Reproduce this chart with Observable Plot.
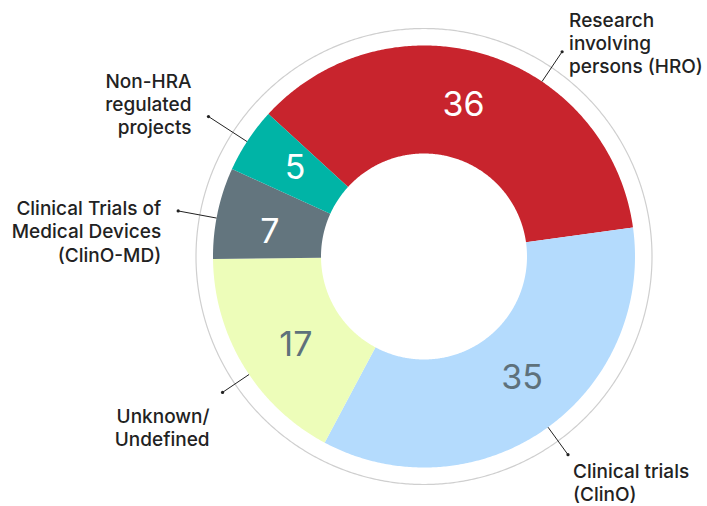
<!DOCTYPE html>
<html><head><meta charset="utf-8">
<script src="https://cdn.jsdelivr.net/npm/d3@7"></script>
<script src="https://cdn.jsdelivr.net/npm/@observablehq/plot@0.6"></script>
<style>body{margin:0;background:#fff} svg{display:block}</style>
</head><body><div id="chart"></div>
<script>
// ---- data ----
const categories = ["Research involving persons (HRO)", "Clinical trials (ClinO)", "Unknown/ Undefined", "Clinical Trials of Medical Devices (ClinO-MD)", "Non-HRA regulated projects"];
const labelLines = ["Research\ninvolving\npersons (HRO)", "Clinical trials\n(ClinO)", "Unknown/\nUndefined", "Clinical Trials of\nMedical Devices\n(ClinO-MD)", "Non-HRA\nregulated\nprojects"];
const values = [36, 35, 17, 7, 5];
const colors = ["#c8242d", "#b4dbfd", "#edfdb9", "#63757e", "#00b4a6"];
const valueOnDark = [true, false, false, true, true];

// ---- layout ----
const W = 707, H = 506;
const CX = 423.5, CY = 256;
const startDeg = -47.5;
const R_OUT = 211, R_IN = 103, R_RING = 228, R_VAL = 156;
const valueAngleShift = [-2.6, -4, -3.5, -3, 0.8];
const leaderAngle = [34, 144, 236, 280.5, 303];
const leaderOuter = [247, 245, 243, 250, 257];
const labelOffset = [[7, -9, "start"], [5, 27.5, "start"], [-13, 35, "end"], [-17, 20, "end"], [-17, -13, "end"]];

const rad = d => d * Math.PI / 180;
const pol = (r, a) => ({x: r * Math.sin(a), y: r * Math.cos(a)});

const arcs = d3.pie().sort(null).startAngle(rad(startDeg)).endAngle(rad(startDeg) + 2 * Math.PI)(values);

const slices = [];
arcs.forEach((a, i) => {
  const n = Math.max(8, Math.ceil((a.endAngle - a.startAngle) / rad(0.5)));
  for (let k = 0; k <= n; k++) {
    const t = a.startAngle + (a.endAngle - a.startAngle) * k / n;
    slices.push({cat: categories[i], ...pol(R_OUT, t)});
  }
  for (let k = n; k >= 0; k--) {
    const t = a.startAngle + (a.endAngle - a.startAngle) * k / n;
    slices.push({cat: categories[i], ...pol(R_IN, t)});
  }
});

const ring = d3.range(0, 720).map(k => pol(R_RING, rad(k / 2)));

const valueLabels = arcs.map((a, i) => ({
  text: String(values[i]), dark: valueOnDark[i],
  ...pol(R_VAL, (a.startAngle + a.endAngle) / 2 + rad(valueAngleShift[i]))
}));

const leaders = categories.map((c, i) => {
  const p1 = pol(R_OUT, rad(leaderAngle[i]));
  const p2 = pol(leaderOuter[i], rad(leaderAngle[i]));
  return {x1: p1.x, y1: p1.y, x2: p2.x, y2: p2.y,
    tx: p2.x + labelOffset[i][0], ty: p2.y - labelOffset[i][1],
    anchor: labelOffset[i][2], text: labelLines[i]};
});

const chart = Plot.plot({
  width: W, height: H,
  margin: 0,
  x: {domain: [-CX, W - CX], axis: null},
  y: {domain: [CY - H, CY], axis: null},
  color: {domain: categories, range: colors},
  style: {fontFamily: "Inter, sans-serif", background: "#fff"},
  marks: [
    Plot.line(ring, {x: "x", y: "y", stroke: "#cfcfcf", strokeWidth: 1.2, curve: "linear-closed"}),
    Plot.line(slices, {x: "x", y: "y", z: "cat", fill: "cat", stroke: null, curve: "linear-closed"}),
    Plot.link(leaders, {x1: "x1", y1: "y1", x2: "x2", y2: "y2", stroke: "#222", strokeWidth: 1}),
    Plot.dot(leaders, {x: "x2", y: "y2", r: 1.6, fill: "#222"}),
    Plot.text(leaders.filter(d => d.anchor === "start"), {x: "tx", y: "ty", text: "text", textAnchor: "start", fontSize: 19, lineHeight: 1.22, fill: "#222", fontWeight: 500}),
    Plot.text(leaders.filter(d => d.anchor === "end"), {x: "tx", y: "ty", text: "text", textAnchor: "end", fontSize: 19, lineHeight: 1.22, fill: "#222", fontWeight: 500}),
    Plot.text(valueLabels.filter(d => d.dark), {x: "x", y: "y", text: "text", fontSize: 34, fill: "#ffffff"}),
    Plot.text(valueLabels.filter(d => !d.dark), {x: "x", y: "y", text: "text", fontSize: 34, fill: "#5e717b"})
  ]
});
document.getElementById("chart").append(chart);
</script>
</body></html>
